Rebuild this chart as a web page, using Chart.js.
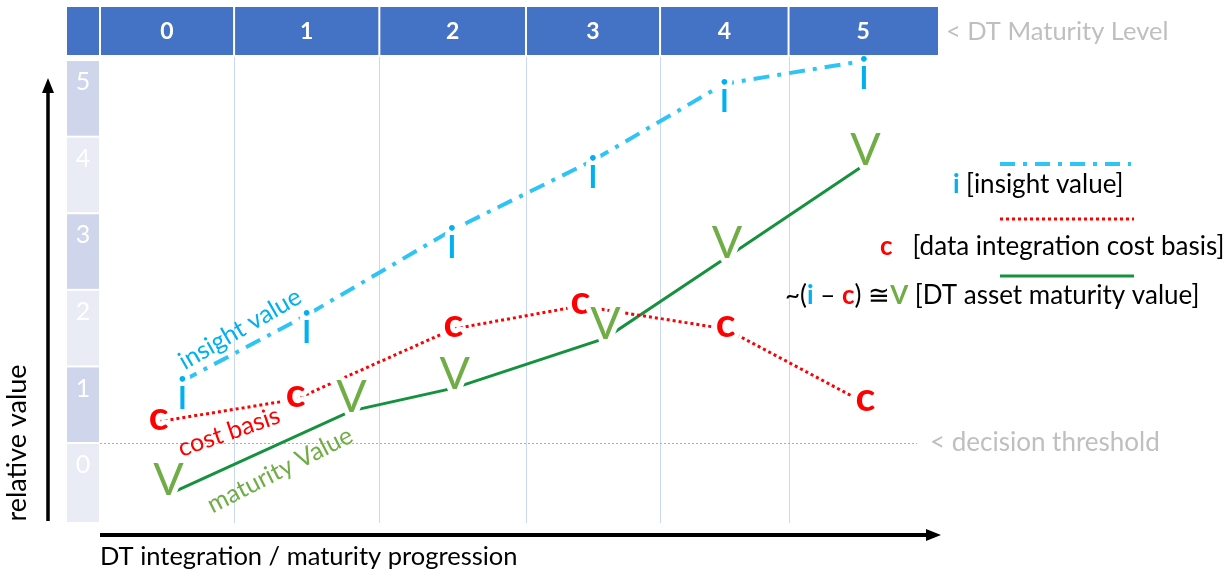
<!DOCTYPE html>
<html>
<head>
<meta charset="utf-8">
<script src="https://cdn.jsdelivr.net/npm/chart.js@4/dist/chart.umd.min.js"></script>
<style>
  html, body { margin: 0; background: #fff; }
  #wrap { width: 1227px; height: 571px; }
</style>
</head>
<body>
<div id="wrap"><canvas id="maturityChart"></canvas></div>
<script>
// DT maturity levels (header columns) and the column edges on the x scale
const levels = ['0', '1', '2', '3', '4', '5'];
const levelEdges = [-0.5, 0.46, 1.5, 2.55, 3.51, 4.43, 5.5];
// relative value rows on the left
const valueTicks = [0, 1, 2, 3, 4, 5];

// insight value (i)
const insightX = [0.09, 0.98, 2.02, 3.03, 3.97, 4.97];
const insightY = [0.81, 1.67, 2.78, 3.69, 4.69, 4.99];
// data integration cost basis (c)
const costX = [-0.08, 0.9, 2.03, 2.94, 3.98, 4.98];
const costY = [0.28, 0.57, 1.49, 1.79, 1.49, 0.52];
// DT asset maturity value (V)
const maturityX = [-0.01, 1.3, 2.04, 3.12, 3.99, 4.98];
const maturityY = [-0.67, 0.42, 0.72, 1.37, 2.43, 3.64];

const FONT = 'Lato, "Open Sans", sans-serif';
const BLUE = '#00B0F0';
const RED = '#FF0000';
const GREEN = '#70AD47';
const GREEN_LINE = '#16923F';
const GREY = '#BFBFBF';

function toPoints(xs, ys) {
  return xs.map((x, i) => ({ x: x, y: ys[i] }));
}

// letters drawn on each point
const markers = [
  { text: 'i', font: '45px ' + FONT, color: BLUE, dy: 28 },
  { text: 'c', font: 'bold 41px ' + FONT, color: RED, dy: 8 },
  { text: 'V', font: '45px ' + FONT, color: GREEN, dy: 1 }
];

// background: header band, value rows, column lines, threshold
const backdrop = {
  id: 'backdrop',
  beforeDatasetsDraw(chart) {
    const { ctx, chartArea: a, scales: { x, y } } = chart;
    ctx.save();

    // header band with maturity levels
    ctx.fillStyle = '#4472C4';
    ctx.fillRect(67, 7, a.right - 67, 48);
    ctx.strokeStyle = '#ffffff';
    ctx.lineWidth = 2;
    const edgesPx = levelEdges.map(v => x.getPixelForValue(v));
    ctx.beginPath();
    ctx.moveTo(a.left, 7); ctx.lineTo(a.left, 55);
    edgesPx.slice(1, -1).forEach(px => { ctx.moveTo(px, 7); ctx.lineTo(px, 55); });
    ctx.stroke();
    ctx.fillStyle = '#ffffff';
    ctx.font = 'bold 23px ' + FONT;
    ctx.textAlign = 'center';
    ctx.textBaseline = 'middle';
    levels.forEach((lab, i) => {
      ctx.fillText(lab, (edgesPx[i] + edgesPx[i + 1]) / 2, 32);
    });

    // value rows on the left
    ctx.font = '25px ' + FONT;
    valueTicks.forEach(k => {
      const top = y.getPixelForValue(k);
      const bottom = k === 0 ? a.bottom : y.getPixelForValue(k - 1);
      ctx.fillStyle = k % 2 === 1 ? '#CFD5EA' : '#E9EBF5';
      ctx.fillRect(67, top + 1, 32, bottom - top - 2);
      ctx.fillStyle = '#ffffff';
      ctx.fillText(String(k), 83, top + 22);
    });

    // column grid lines
    ctx.strokeStyle = '#C9D7F0';
    ctx.lineWidth = 1;
    ctx.beginPath();
    edgesPx.slice(1, -1).forEach(px => {
      ctx.moveTo(Math.round(px) + 0.5, a.top);
      ctx.lineTo(Math.round(px) + 0.5, a.bottom);
    });
    ctx.stroke();

    // decision threshold
    const ty = Math.round(y.getPixelForValue(0)) + 0.5;
    ctx.strokeStyle = '#ADADAD';
    ctx.setLineDash([2, 2]);
    ctx.beginPath();
    ctx.moveTo(a.left, ty);
    ctx.lineTo(917, ty);
    ctx.stroke();
    ctx.setLineDash([]);

    ctx.restore();
  }
};

// letters on points, annotations, legend, arrows
const overlay = {
  id: 'overlay',
  afterDatasetsDraw(chart) {
    const { ctx, chartArea: a, scales: { y } } = chart;
    ctx.save();

    // letter markers on every point (white halo only inside the plot)
    ctx.textAlign = 'center';
    ctx.textBaseline = 'alphabetic';
    markers.forEach((m, di) => {
      const meta = chart.getDatasetMeta(di);
      ctx.font = m.font;
      meta.data.forEach(pt => {
        ctx.save();
        ctx.beginPath();
        ctx.rect(a.left, a.top, a.right - a.left, a.bottom - a.top);
        ctx.clip();
        ctx.strokeStyle = '#ffffff';
        ctx.lineWidth = 10;
        ctx.lineJoin = 'round';
        ctx.strokeText(m.text, pt.x, pt.y + m.dy);
        ctx.restore();
        ctx.fillStyle = m.color;
        ctx.fillText(m.text, pt.x, pt.y + m.dy);
      });
    });

    // rotated series annotations
    function tilted(text, cx, cy, deg, color) {
      ctx.save();
      ctx.translate(cx, cy);
      ctx.rotate(deg * Math.PI / 180);
      ctx.fillStyle = color;
      ctx.font = '25px ' + FONT;
      ctx.textAlign = 'center';
      ctx.textBaseline = 'middle';
      ctx.fillText(text, 0, 0);
      ctx.restore();
    }
    tilted('insight value', 240, 329, -30, BLUE);
    tilted('cost basis', 229, 432, -19, RED);
    tilted('maturity Value', 280, 470, -27, GREEN);

    // side labels
    ctx.fillStyle = GREY;
    ctx.font = '25.5px ' + FONT;
    ctx.textAlign = 'left';
    ctx.textBaseline = 'middle';
    ctx.fillText('< DT Maturity Level', 946, 32);
    ctx.font = '26px ' + FONT;
    ctx.fillText('< decision threshold', 930, y.getPixelForValue(0));

    // legend lines
    ctx.lineWidth = 4;
    ctx.strokeStyle = '#2EC4F6';
    ctx.setLineDash([15, 8, 4, 8]);
    ctx.beginPath(); ctx.moveTo(1000, 164); ctx.lineTo(1131, 164); ctx.stroke();
    ctx.lineWidth = 3;
    ctx.strokeStyle = RED;
    ctx.setLineDash([3, 3]);
    ctx.beginPath(); ctx.moveTo(1000, 219); ctx.lineTo(1134, 219); ctx.stroke();
    ctx.setLineDash([]);
    ctx.strokeStyle = GREEN_LINE;
    ctx.beginPath(); ctx.moveTo(1000, 276); ctx.lineTo(1134, 276); ctx.stroke();

    // legend texts, drawn piece by piece for the coloured letters
    function runs(parts, x0, yy) {
      let xx = x0;
      parts.forEach(p => {
        ctx.font = p[2] + FONT;
        ctx.fillStyle = p[1];
        ctx.fillText(p[0], xx, yy);
        xx += ctx.measureText(p[0]).width;
      });
    }
    runs([['i ', BLUE, 'bold 26px '], ['[insight value]', '#000', '26px ']], 953, 185);
    runs([['c', RED, 'bold 26px '], ['   [data integration cost basis]', '#000', '26px ']], 880, 247);
    runs([['~(', '#000', '26px '], ['i', BLUE, 'bold 26px '], [' \u2013 ', '#000', '26px '],
          ['c', RED, 'bold 26px '], [') \u2245', '#000', '26px '], ['V', GREEN, 'bold 26px '],
          [' [DT asset maturity value]', '#000', '26px ']], 785, 296);

    // axis arrows
    ctx.fillStyle = '#000';
    ctx.strokeStyle = '#000';
    ctx.lineWidth = 3.5;
    ctx.beginPath(); ctx.moveTo(48, 521); ctx.lineTo(48, 90); ctx.stroke();
    ctx.beginPath(); ctx.moveTo(48, 78); ctx.lineTo(42, 93); ctx.lineTo(54, 93); ctx.closePath(); ctx.fill();
    ctx.lineWidth = 4;
    ctx.beginPath(); ctx.moveTo(100, 535); ctx.lineTo(928, 535); ctx.stroke();
    ctx.beginPath(); ctx.moveTo(941, 535); ctx.lineTo(926, 529); ctx.lineTo(926, 541); ctx.closePath(); ctx.fill();

    // axis titles
    ctx.font = '25.5px ' + FONT;
    ctx.textAlign = 'left';
    ctx.fillText('DT integration / maturity progression', 100, 557);
    ctx.save();
    ctx.translate(17, 443);
    ctx.rotate(-Math.PI / 2);
    ctx.textAlign = 'center';
    ctx.font = '27px ' + FONT;
    ctx.fillText('relative value', 0, 0);
    ctx.restore();

    ctx.restore();
  }
};

Chart.defaults.font.family = FONT;

const ctx = document.getElementById('maturityChart').getContext('2d');
const maturityChart = new Chart(ctx, {
  type: 'line',
  data: {
    datasets: [
      {
        label: 'insight value',
        data: toPoints(insightX, insightY),
        borderColor: '#2EC4F6',
        borderWidth: 4,
        borderDash: [16, 8, 4, 8],
        pointRadius: 0,
        clip: false
      },
      {
        label: 'data integration cost basis',
        data: toPoints(costX, costY),
        borderColor: RED,
        borderWidth: 3,
        borderDash: [3, 3],
        pointRadius: 0,
        clip: false
      },
      {
        label: 'DT asset maturity value',
        data: toPoints(maturityX, maturityY),
        borderColor: GREEN_LINE,
        borderWidth: 3,
        pointRadius: 0,
        clip: false
      }
    ]
  },
  options: {
    responsive: true,
    maintainAspectRatio: false,
    animation: false,
    layout: { padding: { left: 100, right: 289, top: 57, bottom: 48 } },
    plugins: { legend: { display: false }, tooltip: { enabled: false } },
    scales: {
      x: { type: 'linear', min: -0.5, max: 5.5, display: false },
      y: { type: 'linear', min: -1.044, max: 5.04, display: false }
    }
  },
  plugins: [backdrop, overlay]
});
</script>
</body>
</html>
